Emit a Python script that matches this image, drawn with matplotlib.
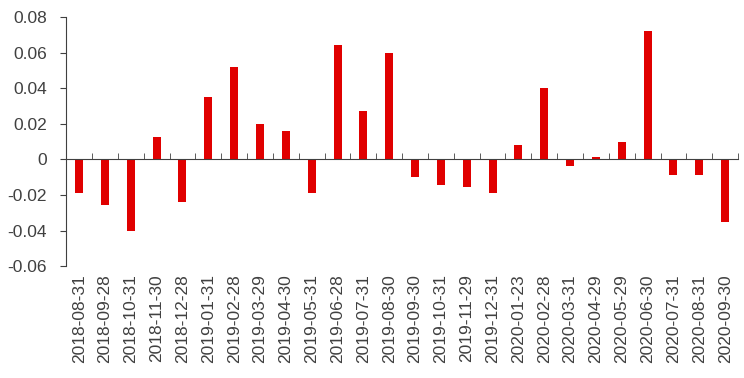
import numpy as np
import matplotlib
matplotlib.use("Agg")
import matplotlib.pyplot as plt
from matplotlib.ticker import FixedLocator

dates = ["2018-08-31", "2018-09-28", "2018-10-31", "2018-11-30", "2018-12-28",
         "2019-01-31", "2019-02-28", "2019-03-29", "2019-04-30", "2019-05-31",
         "2019-06-28", "2019-07-31", "2019-08-30", "2019-09-30", "2019-10-31",
         "2019-11-29", "2019-12-31", "2020-01-23", "2020-02-28", "2020-03-31",
         "2020-04-29", "2020-05-29", "2020-06-30", "2020-07-31", "2020-08-31",
         "2020-09-30"]
values = [-0.0190, -0.0255, -0.0405, 0.0127, -0.0238,
          0.0348, 0.0517, 0.0199, 0.0157, -0.0190,
          0.0642, 0.0272, 0.0596, -0.0101, -0.0142,
          -0.0155, -0.0190, 0.0079, 0.0403, -0.0036,
          0.0013, 0.0097, 0.0719, -0.0088, -0.0088,
          -0.0352]
yticks = [-0.06, -0.04, -0.02, 0, 0.02, 0.04, 0.06, 0.08]
ytick_labels = ["-0.06", "-0.04", "-0.02", "0", "0.02", "0.04", "0.06", "0.08"]

plt.rcParams['font.family'] = ['Liberation Sans', 'DejaVu Sans']
text_color = '#404040'

fig = plt.figure(figsize=(7.44, 3.78), dpi=100)
ax = fig.add_axes([0.089, 0.296, 0.903, 0.659])

x = np.arange(len(dates))
ax.bar(x, values, width=0.31, color='#E00000')

ax.set_xlim(-0.5, len(dates) - 0.5)
ax.set_ylim(-0.06, 0.08)
ax.set_yticks(yticks)
ax.set_yticklabels(ytick_labels)
ax.tick_params(axis='y', direction='out', length=4, colors='#404040',
               labelcolor=text_color, labelsize=12.5, pad=10)

# zero line with category-boundary ticks
for s in ['top', 'right']:
    ax.spines[s].set_visible(False)
ax.spines['bottom'].set_position(('data', 0))
ax.spines['left'].set_color('#404040')
ax.spines['bottom'].set_color('#404040')
ax.xaxis.set_major_locator(FixedLocator([]))
ax.xaxis.set_minor_locator(FixedLocator(np.arange(len(dates) + 1) - 0.5))
ax.tick_params(axis='x', which='minor', direction='in', length=4, color='#404040')

# date labels along the bottom
sec = ax.secondary_xaxis('bottom')
sec.set_xticks(x)
sec.set_xticklabels(dates, rotation=90)
sec.spines['bottom'].set_visible(False)
sec.tick_params(length=0, pad=6, labelsize=12.5, labelcolor=text_color)

fig.savefig("out.png", dpi=100)
